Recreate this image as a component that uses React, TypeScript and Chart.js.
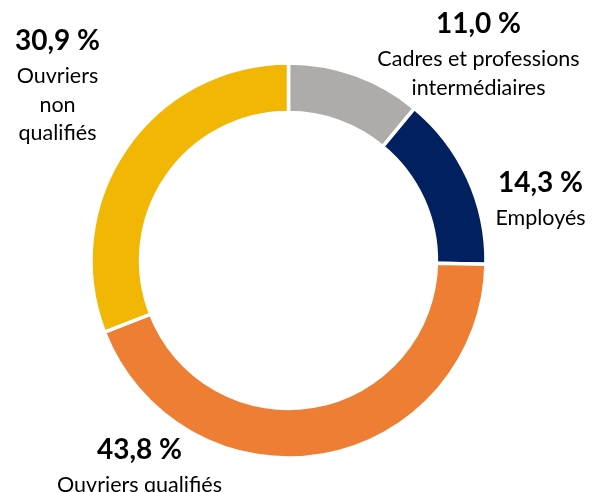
import React, { useEffect, useRef } from "react";
import { Chart, registerables } from "chart.js";

Chart.register(...registerables);

const categories = ["Cadres et professions intermédiaires", "Employés", "Ouvriers qualifiés", "Ouvriers non qualifiés"];
const values = [11.0, 14.3, 43.8, 30.9];
const percentLabels = ["11,0 %", "14,3 %", "43,8 %", "30,9 %"];
const nameLines = [["Cadres et professions", "intermédiaires"], ["Employés"], ["Ouvriers qualifiés"], ["Ouvriers", "non", "qualifiés"]];
const colors = ["#AEABAB", "#002060", "#EE7E33", "#F2B705"];

// label anchor offsets relative to chart centre (x, y of percent text centre)
const labelAnchors = [
  [190, -237],
  [252, -78],
  [-149, 189],
  [-231, -220],
];

const labelPlugin = {
  id: "sliceLabels",
  afterDraw(chart: any) {
    const ctx = chart.ctx;
    const meta = chart.getDatasetMeta(0);
    const arc = meta.data[0];
    if (!arc) return;
    const cx = arc.x;
    const cy = arc.y;
    ctx.save();
    ctx.fillStyle = "#000000";
    ctx.textAlign = "center";
    ctx.textBaseline = "middle";
    percentLabels.forEach((p, i) => {
      const [dx, dy] = labelAnchors[i];
      const x = cx + dx;
      const y = cy + dy;
      ctx.font = "bold 28px Lato";
      ctx.fillText(p, x, y);
      ctx.font = "21.5px Lato";
      nameLines[i].forEach((line, j) => {
        ctx.fillText(line, x, y + 36 + j * 28.5);
      });
    });
    ctx.restore();
  },
};

export default function App() {
  const ref = useRef<HTMLCanvasElement>(null);
  useEffect(() => {
    document.body.style.margin = "0";
    const chart = new Chart(ref.current!, {
      type: "doughnut",
      data: {
        labels: categories,
        datasets: [
          {
            data: values,
            backgroundColor: colors,
            borderColor: "#FFFFFF",
            borderWidth: 3.5,
          },
        ],
      },
      options: {
        animation: false,
        responsive: false,
        cutout: "74.9%",
        layout: { padding: { left: 0, right: 15, top: 61.25, bottom: 32.25 } },
        plugins: { legend: { display: false }, tooltip: { enabled: false } },
      },
      plugins: [labelPlugin],
    });
    return () => chart.destroy();
  }, []);
  return (
    <div style={{ position: "absolute", left: 0, top: 0, width: 592, height: 492 }}>
      <canvas ref={ref} width={592} height={492} style={{ width: 592, height: 492 }} />
    </div>
  );
}
